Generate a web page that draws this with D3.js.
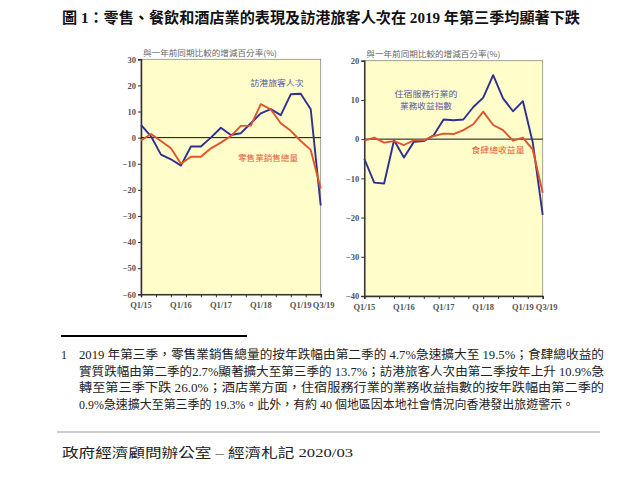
<!DOCTYPE html>
<html>
<head>
<meta charset="utf-8">
<script src="https://cdn.jsdelivr.net/npm/d3@7/dist/d3.min.js"></script>
<style>
  body { margin: 0; background: #fff; }
  .cjk { font-family: "Liberation Serif", "Noto Sans CJK TC", serif; }
</style>
</head>
<body>
<div class="chart"></div>
<script>
// quarters on the x axis (Q1/15 .. Q3/19)
const quarters = ["Q1/15","Q2/15","Q3/15","Q4/15","Q1/16","Q2/16","Q3/16","Q4/16",
  "Q1/17","Q2/17","Q3/17","Q4/17","Q1/18","Q2/18","Q3/18","Q4/18","Q1/19","Q2/19","Q3/19"];
const xTickLabels = ["Q1/15","Q1/16","Q1/17","Q1/18","Q1/19","Q3/19"];

// left panel: year-on-year % change
const visitorArrivals = [4.9, 0.5, -6.5, -8.3, -10.7, -3.4, -3.4, 0.0, 3.8, 1.0, 1.7, 5.5, 9.3, 10.9, 8.6, 16.6, 16.8, 10.9, -26.0];
const retailVolume = [-1.1, 1.4, -1.3, -4.1, -10.0, -7.3, -7.3, -4.1, -1.9, 0.6, 4.5, 4.6, 12.8, 10.8, 5.5, 2.6, -1.3, -4.7, -19.5];
const leftYTicks = [30, 20, 10, 0, -10, -20, -30, -40, -50, -60];

// right panel
const accommodationIndex = [-5.0, -11.1, -11.3, -0.3, -4.7, -0.7, -0.5, 1.0, 5.0, 4.8, 5.0, 8.2, 10.6, 16.3, 10.4, 7.1, 9.7, -0.9, -19.3];
const restaurantVolume = [-0.4, 0.4, -0.9, -0.5, -1.5, -0.3, -0.3, 0.8, 1.4, 1.3, 2.3, 3.8, 7.0, 3.6, 2.3, -0.4, 0.4, -2.7, -13.7];
const rightYTicks = [20, 10, 0, -10, -20, -30, -40];

const axisTitle = "與一年前同期比較的增減百分率(%)";
const footnoteLines = [
  "2019 年第三季，零售業銷售總量的按年跌幅由第二季的 4.7%急速擴大至 19.5%；食肆總收益的",
  "實質跌幅由第二季的2.7%顯著擴大至第三季的 13.7%；訪港旅客人次由第二季按年上升 10.9%急",
  "轉至第三季下跌 26.0%；酒店業方面，住宿服務行業的業務收益指數的按年跌幅由第二季的",
  "0.9%急速擴大至第三季的 19.3%。此外，有約 40 個地區因本地社會情況向香港發出旅遊警示。"
];

(function() {

  let svgContainer = "";
  const blue = "#302f92";
  const red = "#e2532c";

  window.onload = function() {
    svgContainer = d3.select('.chart').append('svg')
      .attr('width', 640)
      .attr('height', 502);

    // title
    svgContainer.append('text')
      .attr('class', 'cjk')
      .attr('x', 62)
      .attr('y', 23)
      .attr('font-size', 15)
      .attr('font-weight', 'bold')
      .attr('fill', '#111')
      .attr('textLength', 518)
      .attr('lengthAdjust', 'spacingAndGlyphs')
      .text('圖 1：零售、餐飲和酒店業的表現及訪港旅客人次在 2019 年第三季均顯著下跌');

    drawPanel({
      left: 141, right: 320.7, top: 59.3, bottom: 294.3,
      domain: [-60, 30], ticks: leftYTicks,
      series: [
        { values: visitorArrivals, color: blue },
        { values: retailVolume, color: red }
      ],
      labels: [
        { text: '訪港旅客人次', x: 277, y: 86, color: '#5757a8', len: 53 },
        { text: '零售業銷售總量', x: 268, y: 161, color: '#e0603c', len: 60 }
      ],
      lastDx: 3
    });

    drawPanel({
      left: 364.3, right: 542.7, top: 60.7, bottom: 296,
      domain: [-40, 20], ticks: rightYTicks,
      series: [
        { values: accommodationIndex, color: blue },
        { values: restaurantVolume, color: red }
      ],
      labels: [
        { text: '住宿服務行業的', x: 426, y: 96.5, color: '#5757a8', len: 63 },
        { text: '業務收益指數', x: 426, y: 108.5, color: '#5757a8', len: 52 },
        { text: '食肆總收益量', x: 498, y: 153, color: '#e0603c', len: 53 }
      ],
      lastDx: 4
    });

    drawNotes();
  };

  function drawPanel(cfg) {
    let xScale = d3.scaleLinear()
      .domain([0, quarters.length - 1])
      .range([cfg.left, cfg.right]);
    let yScale = d3.scaleLinear()
      .domain(cfg.domain)
      .range([cfg.bottom, cfg.top]);

    let g = svgContainer.append('g');

    // plot background + frame
    g.append('rect')
      .attr('x', cfg.left)
      .attr('y', cfg.top)
      .attr('width', cfg.right - cfg.left)
      .attr('height', cfg.bottom - cfg.top)
      .attr('fill', '#fffdc9')
      .attr('stroke', '#8a8a80')
      .attr('stroke-width', 0.8);

    // y axis
    let yAxis = d3.axisLeft(yScale)
      .tickValues(cfg.ticks)
      .tickSize(3)
      .tickPadding(2)
      .tickFormat(d3.format('d'));
    let ya = g.append('g')
      .attr('transform', 'translate(' + cfg.left + ',0)')
      .call(yAxis);
    ya.select('.domain').attr('stroke', '#333').attr('stroke-width', 1.5);
    ya.selectAll('.tick line').attr('stroke', '#333');
    ya.selectAll('.tick text')
      .attr('font-family', 'Liberation Serif, serif')
      .attr('font-weight', 'bold')
      .attr('font-size', 8.5)
      .attr('fill', '#555');

    // x axis: small tick marks, labels drawn separately
    let xAxis = d3.axisBottom(xScale)
      .tickValues(d3.range(0, 18.01, 1.5))
      .tickSize(3)
      .tickFormat('');
    let xa = g.append('g')
      .attr('transform', 'translate(0,' + cfg.bottom + ')')
      .call(xAxis);
    xa.select('.domain').attr('stroke', '#333').attr('stroke-width', 1.5);
    xa.selectAll('.tick line').attr('stroke', '#333');

    g.selectAll('.xlabel')
      .data(xTickLabels)
      .enter()
      .append('text')
        .attr('x', (d, i) => xScale(quarters.indexOf(d)) + (i === xTickLabels.length - 1 ? cfg.lastDx : 0))
        .attr('y', cfg.bottom + 14)
        .attr('text-anchor', 'middle')
        .attr('font-family', 'Liberation Serif, serif')
        .attr('font-weight', 'bold')
        .attr('font-size', 8.5)
        .attr('fill', '#555')
        .text((d) => d);

    // zero line
    g.append('line')
      .attr('x1', cfg.left)
      .attr('x2', cfg.right)
      .attr('y1', yScale(0))
      .attr('y2', yScale(0))
      .attr('stroke', '#111')
      .attr('stroke-width', 1);

    // axis title
    g.append('text')
      .attr('x', cfg.left + 2)
      .attr('y', cfg.top - 3.5)
      .attr('font-family', 'Noto Sans CJK TC, sans-serif')
      .attr('font-size', 8)
      .attr('fill', '#666')
      .attr('textLength', 134)
      .attr('lengthAdjust', 'spacingAndGlyphs')
      .text(axisTitle);

    // series
    let line = d3.line()
      .x((d, i) => xScale(i))
      .y((d) => yScale(d));
    cfg.series.forEach(function(s) {
      g.append('path')
        .datum(s.values)
        .attr('d', line)
        .attr('fill', 'none')
        .attr('stroke', s.color)
        .attr('stroke-width', 1.9)
        .attr('stroke-linejoin', 'round');
    });

    cfg.labels.forEach(function(l) {
      g.append('text')
        .attr('x', l.x - l.len / 2)
        .attr('y', l.y)
        .attr('font-family', 'Noto Sans CJK TC, sans-serif')
        .attr('font-size', 8)
        .attr('fill', l.color)
        .attr('textLength', l.len)
        .attr('lengthAdjust', 'spacingAndGlyphs')
        .text(l.text);
    });
  }

  function drawNotes() {
    svgContainer.append('line')
      .attr('x1', 61).attr('x2', 247)
      .attr('y1', 336).attr('y2', 336)
      .attr('stroke', '#000')
      .attr('stroke-width', 2);

    svgContainer.append('text')
      .attr('class', 'cjk')
      .attr('x', 61)
      .attr('y', 359)
      .attr('font-size', 12)
      .attr('fill', '#222')
      .text('1');

    let lens = [525, 525, 525, 495];
    svgContainer.selectAll('.fn')
      .data(footnoteLines)
      .enter()
      .append('text')
        .attr('class', 'cjk')
        .attr('x', 79)
        .attr('y', (d, i) => 359 + i * 16.6)
        .attr('font-size', 12)
        .attr('fill', '#222')
        .attr('textLength', (d, i) => lens[i])
        .attr('lengthAdjust', 'spacingAndGlyphs')
        .text((d) => d);

    svgContainer.append('line')
      .attr('x1', 57).attr('x2', 600)
      .attr('y1', 432).attr('y2', 432)
      .attr('stroke', '#999')
      .attr('stroke-width', 1);

    svgContainer.append('text')
      .attr('class', 'cjk')
      .attr('x', 62)
      .attr('y', 457)
      .attr('font-size', 13)
      .attr('fill', '#222')
      .attr('textLength', 291)
      .attr('lengthAdjust', 'spacingAndGlyphs')
      .text('政府經濟顧問辦公室  –  經濟札記 2020/03');
  }

})();
</script>
</body>
</html>
